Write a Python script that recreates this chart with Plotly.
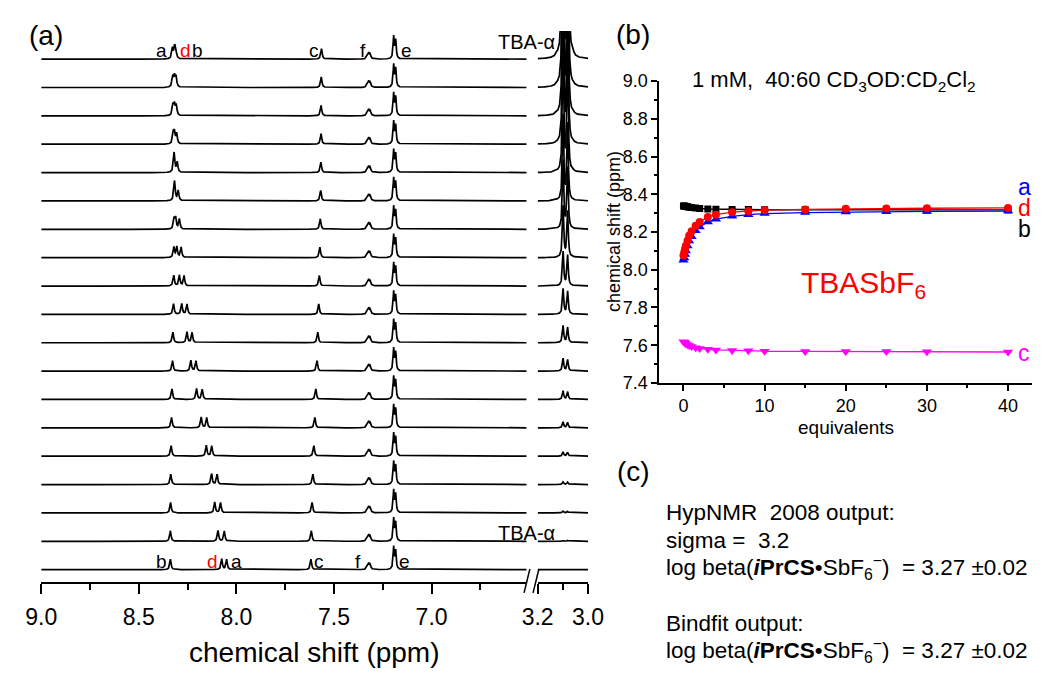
import numpy as np
import plotly.graph_objects as go

W, H = 1052, 676

# ---------------- data ----------------
EQUIV = [0, 0.1, 0.2, 0.3, 0.5, 0.7, 1.0, 1.5, 2, 3, 4, 6, 8, 10, 15, 20, 25, 30, 40]
SHIFT_A = [8.050, 8.062, 8.081, 8.099, 8.126, 8.152, 8.175, 8.207, 8.227, 8.253,
           8.268, 8.283, 8.292, 8.298, 8.303, 8.306, 8.308, 8.309, 8.311]
SHIFT_D = [8.075, 8.094, 8.111, 8.127, 8.154, 8.180, 8.204, 8.233, 8.253, 8.280,
           8.292, 8.305, 8.311, 8.316, 8.320, 8.323, 8.325, 8.326, 8.328]
SHIFT_B = [8.338, 8.338, 8.337, 8.336, 8.334, 8.332, 8.330, 8.327, 8.325, 8.322,
           8.321, 8.320, 8.319, 8.318, 8.318, 8.317, 8.317, 8.317, 8.317]
SHIFT_C = [7.618, 7.616, 7.612, 7.608, 7.603, 7.598, 7.593, 7.587, 7.583, 7.578,
           7.575, 7.572, 7.570, 7.568, 7.567, 7.566, 7.566, 7.565, 7.564]
SHIFT_E = [7.194, 7.184]            # doublet lines
HEIGHT_E = [0.78, 0.64]
SHIFT_F = [7.330, 7.322, 7.314]     # multiplet lines
HEIGHT_F = [0.10, 0.20, 0.15]
HEIGHT_ABCD = {"a": 0.36, "b": 0.37, "c": 0.37, "d": 0.38}
SHIFT_TBA = [3.124, 3.099, 3.081, 3.058]
TBA_PER_EQUIV = [0.0020, 0.30, 0.27, 0.0018]

X_TICK_VALS_B = [0, 10, 20, 30, 40]


def px(x):
    return x / W


def py(y):
    return 1 - y / H


def lorentz(grid, pos, h, w):
    return h / (1.0 + ((grid - pos) / w) ** 2)


def make_grid(lo, hi, centers):
    coarse = np.arange(lo, hi, 0.004)
    fine = [np.arange(c - 0.04, c + 0.04, 0.0004) for c in centers]
    g = np.concatenate([coarse] + fine + [np.array([lo, hi])])
    g = g[(g >= lo) & (g <= hi)]
    return np.unique(np.round(g, 5))


LEFT_LO, LEFT_HI = 6.5127, 9.0
RIGHT_LO, RIGHT_HI = 3.0, 3.2

lx, ly, rx, ry = [], [], [], []
for i, eq in enumerate(EQUIV):
    peaks = [(SHIFT_A[i], HEIGHT_ABCD["a"], 0.004),
             (SHIFT_B[i], HEIGHT_ABCD["b"], 0.004),
             (SHIFT_C[i], HEIGHT_ABCD["c"], 0.004),
             (SHIFT_D[i], HEIGHT_ABCD["d"], 0.004)]
    peaks += [(p, h, 0.0035) for p, h in zip(SHIFT_E, HEIGHT_E)]
    peaks += [(p, h, 0.004) for p, h in zip(SHIFT_F, HEIGHT_F)]
    g = make_grid(LEFT_LO, LEFT_HI, [p[0] for p in peaks])
    y = np.zeros_like(g)
    for p, h, w in peaks:
        y += lorentz(g, p, h, w)
    lx += list(g) + [None]
    ly += list(np.round(y + i, 4)) + [None]

    g2 = make_grid(RIGHT_LO, RIGHT_HI, SHIFT_TBA)
    y2 = np.zeros_like(g2)
    for p, k in zip(SHIFT_TBA, TBA_PER_EQUIV):
        y2 += lorentz(g2, p, k * eq, 0.0030)
    rx += list(g2) + [None]
    ry += list(np.round(y2 + i, 4)) + [None]

fig = go.Figure()
fig.add_trace(go.Scatter(x=lx, y=ly, mode="lines", line=dict(color="black", width=1.7),
                         xaxis="x", yaxis="y", hoverinfo="skip"))
fig.add_trace(go.Scatter(x=rx, y=ry, mode="lines", line=dict(color="black", width=1.7),
                         xaxis="x2", yaxis="y", hoverinfo="skip"))

series_b = [
    (SHIFT_B, "black", "square", 7),
    (SHIFT_A, "#0000ff", "triangle-up", 9),
    (SHIFT_D, "#ff0000", "circle", 8),
    (SHIFT_C, "#ff00ff", "triangle-down", 9),
]
for vals, col, sym, sz in series_b:
    fig.add_trace(go.Scatter(x=EQUIV, y=vals, mode="lines+markers",
                             line=dict(color=col, width=1.3),
                             marker=dict(color=col, symbol=sym, size=sz),
                             xaxis="x3", yaxis="y3"))

FONT = "Arial, Liberation Sans, sans-serif"
axis_common = dict(showline=True, linecolor="black", ticks="outside", tickcolor="black",
                   showgrid=False, zeroline=False, tickfont=dict(family=FONT, color="black"))

fig.update_layout(
    width=W, height=H, margin=dict(l=0, r=0, t=0, b=0),
    paper_bgcolor="white", plot_bgcolor="white", showlegend=False,
    font=dict(family=FONT, color="black"),
    xaxis=dict(**axis_common, domain=[px(26), px(526.7)], range=[LEFT_HI, LEFT_LO],
               anchor="y", linewidth=2, tickwidth=2, ticklen=10, tick0=9.0, dtick=0.5,
               tickformat=".1f", ticklabelstandoff=4,
               minor=dict(ticks="outside", dtick=0.25, tick0=9.0, ticklen=6, tickwidth=2,
                          tickcolor="black")),
    xaxis2=dict(**axis_common, domain=[px(538), px(590)], range=[RIGHT_HI, RIGHT_LO],
                anchor="y", linewidth=2, tickwidth=2, ticklen=10, tick0=3.0, dtick=0.2,
                tickformat=".1f", ticklabelstandoff=4,
                minor=dict(ticks="outside", dtick=0.1, tick0=3.0, ticklen=6, tickwidth=2,
                           tickcolor="black")),
    yaxis=dict(domain=[py(589.3), py(21.7)], range=[-0.431, 18.99], visible=False),
    xaxis3=dict(**axis_common, domain=[px(663.3), px(1048.3)], range=[-3, 43],
                anchor="y3", linewidth=1.5, tickwidth=1.5, ticklen=6,
                tickvals=X_TICK_VALS_B,
                minor=dict(ticks="outside", dtick=5, tick0=0, ticklen=3, tickwidth=1.5,
                           tickcolor="black")),
    yaxis3=dict(**axis_common, domain=[py(384.3), py(73.3)], range=[7.4, 9.0],
                anchor="x3", linewidth=1.5, tickwidth=1.5, ticklen=6, tick0=7.4, dtick=0.2,
                tickformat=".1f",
                minor=dict(ticks="outside", dtick=0.1, tick0=7.4, ticklen=3, tickwidth=1.5,
                           tickcolor="black")),
)
fig.layout.xaxis.tickfont.size = 23
fig.layout.xaxis2.tickfont.size = 23
fig.layout.xaxis3.tickfont.size = 18
fig.layout.yaxis3.tickfont.size = 18

ann = []


def text(x, y, s, size, color="black", xanchor="center", angle=0):
    ann.append(dict(x=px(x), y=py(y), xref="paper", yref="paper", text=s, showarrow=False,
                    xanchor=xanchor, yanchor="middle", textangle=angle,
                    font=dict(family=FONT, size=size, color=color)))


# panel labels
text(31, 26, "(a)", 28)
text(636, 25, "(b)", 28)
text(637, 476, "(c)", 28)

# top peak labels
text(149.7, 42, "a", 19)
text(174.5, 42, "d", 19, "#ff0000")
text(187.5, 42, "b", 19)
text(307.3, 42, "c", 19)
text(357.9, 42, "f", 19)
text(403, 42, "e", 19)
text(527, 33, "TBA-α", 20)
# bottom peak labels
text(150, 568, "b", 19)
text(202.7, 568, "d", 19, "#ff0000")
text(227, 568, "a", 19)
text(312, 568, "c", 19)
text(352.7, 568, "f", 19)
text(401, 568, "e", 19)
text(527, 539, "TBA-α", 20)

text(307.5, 662, "chemical shift (ppm)", 28)

# panel b
text(844, 73, "1 mM,\u00a0 40:60 CD<sub>3</sub>OD:CD<sub>2</sub>Cl<sub>2</sub>", 22)
text(874, 283, "TBASbF<sub>6</sub>", 30, "#ff0000")
text(1040, 182, "a", 23, "#0000ff")
text(1040, 204, "d", 23, "#ff0000")
text(1040, 226, "b", 23)
text(1040, 353, "c", 23, "#ff00ff")
text(856, 430, "equivalents", 19)
text(616, 228.5, "chemical shift (ppm)", 18, angle=-90)

# panel c
lb = "log beta(<b><i>i</i>PrCS</b>•SbF<sub>6</sub><sup>−</sup>)\u00a0 = 3.27 ±0.02"
text(668, 518, "HypNMR\u00a0 2008 output:", 22.5, xanchor="left")
text(668, 547, "sigma =\u00a0 3.2", 22.5, xanchor="left")
text(668, 575, lb, 22.5, xanchor="left")
text(668, 632, "Bindfit output:", 22.5, xanchor="left")
text(668, 660, lb, 22.5, xanchor="left")

fig.update_layout(annotations=ann)

# axis break marks
shapes = []
for x0 in (524.0, 533.3):
    shapes.append(dict(type="line", xref="paper", yref="paper",
                       x0=px(x0), y0=py(600.7), x1=px(x0 + 6), y1=py(576),
                       line=dict(color="black", width=1.5)))
fig.update_layout(shapes=shapes)

fig.write_html("out.html")
